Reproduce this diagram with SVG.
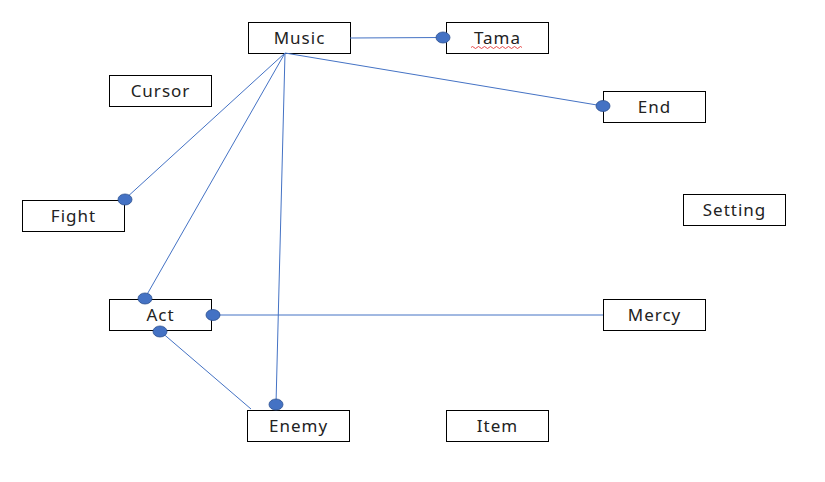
<svg xmlns="http://www.w3.org/2000/svg" width="825" height="482" viewBox="0 0 825 482">
<style>
.box{fill:#fff;stroke:#000;stroke-width:1}
.lbl{font-family:"Noto Sans","Noto Sans CJK JP",sans-serif;font-size:17px;letter-spacing:1px;fill:#222;text-anchor:middle}
.con line{stroke:#4472C4;stroke-width:1}
.dot{fill:#4472C4;stroke:#2F528F;stroke-width:0.8}
</style>
<rect width="825" height="482" fill="#fff"/>
<g id="Music"><rect class="box" x="248.5" y="22.5" width="102" height="31"/><text class="lbl" x="299.5" y="44">Music</text></g>
<g id="Tama"><rect class="box" x="446.5" y="22.5" width="102" height="31"/><text class="lbl" x="497.5" y="44">Tama</text><path d="M471 47.5 q1.5 -2 3 0 t3 0 t3 0 t3 0 t3 0 t3 0 t3 0 t3 0 t3 0 t3 0 t3 0 t3 0 t3 0 t3 0 t3 0 t3 0 t3 0" fill="none" stroke="#e02020" stroke-width="0.8"/></g>
<g id="Cursor"><rect class="box" x="109.5" y="75.5" width="102" height="31"/><text class="lbl" x="160.5" y="97">Cursor</text></g>
<g id="End"><rect class="box" x="603.5" y="91.5" width="102" height="31"/><text class="lbl" x="654.5" y="113">End</text></g>
<g id="Fight"><rect class="box" x="22.5" y="200.5" width="102" height="31"/><text class="lbl" x="73.5" y="222">Fight</text></g>
<g id="Setting"><rect class="box" x="683.5" y="194.5" width="102" height="31"/><text class="lbl" x="734.5" y="216">Setting</text></g>
<g id="Act"><rect class="box" x="109.5" y="299.5" width="102" height="31"/><text class="lbl" x="160.5" y="321">Act</text></g>
<g id="Mercy"><rect class="box" x="603.5" y="299.5" width="102" height="31"/><text class="lbl" x="654.5" y="321">Mercy</text></g>
<g id="Enemy"><rect class="box" x="247.5" y="410.5" width="102" height="31"/><text class="lbl" x="298.5" y="432">Enemy</text></g>
<g id="Item"><rect class="box" x="446.5" y="410.5" width="102" height="31"/><text class="lbl" x="497.5" y="432">Item</text></g>
<g id="connectors" class="con">
<line x1="350" y1="38" x2="443" y2="37.5"/>
<line x1="285" y1="53" x2="603" y2="106"/>
<line x1="285" y1="53" x2="125" y2="199"/>
<line x1="285" y1="53" x2="145" y2="298"/>
<line x1="285" y1="53" x2="276" y2="404"/>
<line x1="603" y1="315" x2="213" y2="315"/>
<line x1="251" y1="409" x2="160" y2="331"/>
<ellipse class="dot" cx="443" cy="37.5" rx="7" ry="5.5"/>
<ellipse class="dot" cx="603" cy="106" rx="7" ry="5.5"/>
<ellipse class="dot" cx="125" cy="199.5" rx="7" ry="5.5"/>
<ellipse class="dot" cx="145" cy="298.5" rx="7" ry="5.5"/>
<ellipse class="dot" cx="213" cy="315" rx="7" ry="5.5"/>
<ellipse class="dot" cx="160" cy="331.5" rx="7" ry="5.5"/>
<ellipse class="dot" cx="276" cy="404.5" rx="7" ry="5.5"/>
</g>
</svg>
